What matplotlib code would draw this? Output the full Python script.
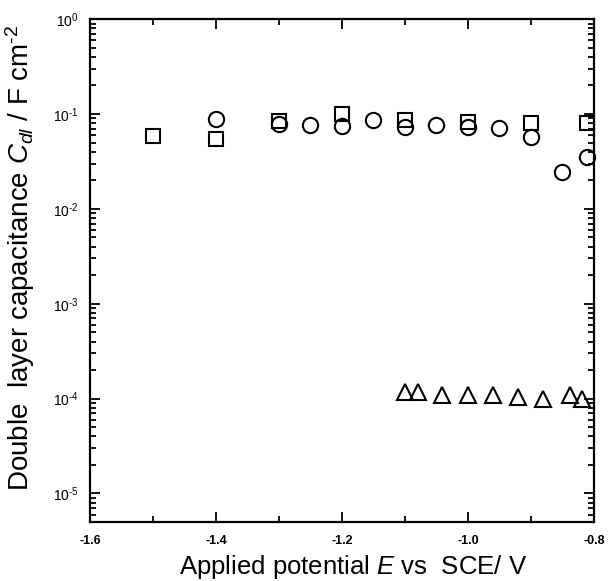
import numpy as np
import matplotlib
matplotlib.use("Agg")
import matplotlib.pyplot as plt
import matplotlib.ticker as ticker

plt.rcParams['font.family'] = ['Liberation Sans', 'DejaVu Sans']
plt.rcParams['mathtext.fontset'] = 'custom'
plt.rcParams['mathtext.rm'] = 'Liberation Sans'
plt.rcParams['mathtext.it'] = 'Liberation Sans:italic'
plt.rcParams['mathtext.bf'] = 'Liberation Sans:bold'

# squares
sq_E = [-1.5, -1.4, -1.3, -1.2, -1.1, -1.0, -0.9, -0.81]
sq_C = [0.059, 0.055, 0.084, 0.100, 0.086, 0.082, 0.080, 0.080]
# circles
circ_E = [-1.4, -1.3, -1.25, -1.2, -1.15, -1.1, -1.05, -1.0, -0.95, -0.9, -0.85, -0.81]
circ_C = [0.089, 0.078, 0.077, 0.075, 0.086, 0.073, 0.077, 0.073, 0.071, 0.057, 0.0245, 0.035]
# triangles
tri_E = [-1.1, -1.079, -1.041, -1.0, -0.96, -0.921, -0.881, -0.838, -0.819]
tri_C = [1.16e-4, 1.18e-4, 1.10e-4, 1.08e-4, 1.08e-4, 1.03e-4, 0.98e-4, 1.10e-4, 1.0e-4]

x_ticks = [-1.6, -1.4, -1.2, -1.0, -0.8]
x_labels = ["-1.6", "-1.4", "-1.2", "-1.0", "-0.8"]
y_ticks = [1e0, 1e-1, 1e-2, 1e-3, 1e-4, 1e-5]
y_labels = [r"10$^{\text{0}}$", r"10$^{\text{-1}}$", r"10$^{\text{-2}}$",
            r"10$^{\text{-3}}$", r"10$^{\text{-4}}$", r"10$^{\text{-5}}$"]

fig = plt.figure(figsize=(6.09, 5.81), dpi=100)
ax = fig.add_axes([0.148, 0.1015, 0.827, 0.8655])

mk = dict(linestyle="none", markerfacecolor="none", markeredgecolor="black",
          markeredgewidth=1.5, clip_on=False)
ax.plot(circ_E, circ_C, marker="o", markersize=11, **mk)
ax.plot(sq_E, sq_C, marker="s", markersize=10, **mk)
ax.plot(tri_E, tri_C, marker="^", markersize=11, **mk)

ax.set_yscale("log")
ax.set_xlim(-1.6, -0.8)
ax.set_ylim(5e-6, 1e0)

ax.set_xticks(x_ticks)
ax.set_xticklabels(x_labels, fontsize=9, fontweight="bold")
ax.xaxis.set_minor_locator(ticker.MultipleLocator(0.1))
ax.set_yticks(y_ticks)
ax.set_yticklabels(y_labels, fontsize=10)
ax.yaxis.set_minor_locator(ticker.LogLocator(base=10, subs=np.arange(2, 10), numticks=20))
ax.yaxis.set_minor_formatter(ticker.NullFormatter())

ax.tick_params(which="both", direction="in", top=True, right=True, width=1.3)
ax.tick_params(which="major", length=7)
ax.tick_params(which="minor", length=4)
ax.tick_params(axis="x", which="major", pad=9)
ax.tick_params(axis="y", which="major", pad=8)
for s in ax.spines.values():
    s.set_linewidth(1.6)

ax.set_xlabel(r"Applied potential $\mathit{E}$ vs  SCE/ V", fontsize=18.5)
ax.xaxis.label.set_verticalalignment("baseline")
ax.xaxis.set_label_coords(0.523, -0.1034)
ax.set_ylabel(r"Double  layer capacitance $\mathit{C}_{\mathit{dl}}$ / F cm$^{\text{-2}}$",
              fontsize=20)
ax.yaxis.set_label_coords(-0.105, 0.525)

fig.savefig("out.png", dpi=100)
